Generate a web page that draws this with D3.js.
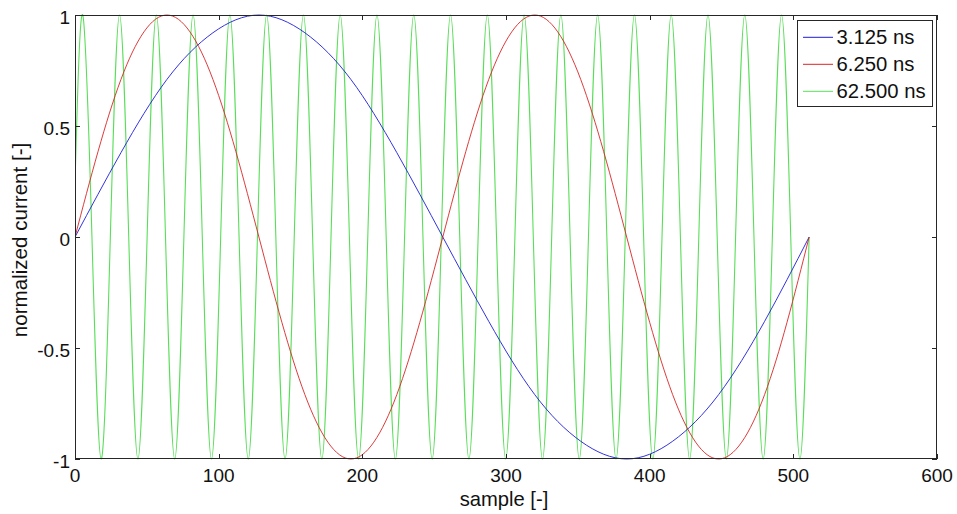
<!DOCTYPE html>
<html>
<head>
<meta charset="utf-8">
<script src="https://cdn.jsdelivr.net/npm/d3@7"></script>
<style>
body { margin: 0; background: #fff; }
svg { display: block; font-family: "Liberation Sans", Arial, sans-serif; }
</style>
</head>
<body>
<svg id="chart" width="957" height="514"></svg>
<script>
var blueX, blueY, redX, redY, greenX, greenY, seriesNames, seriesColors, xTicks, yTicks, yTickLabels;
// 3.125 ns trace, read every 32 samples
blueX = [0, 32, 64, 96, 128, 160, 192, 224, 256, 288, 320, 352, 384, 416, 448, 480, 511];
blueY = [0, 0.38, 0.71, 0.92, 1, 0.92, 0.71, 0.38, 0, -0.38, -0.71, -0.92, -1, -0.92, -0.71, -0.38, 0];
// 6.250 ns trace
redX = [0, 32, 64, 96, 128, 160, 192, 224, 256, 288, 320, 352, 384, 416, 448, 480, 511];
redY = [0, 0.71, 1, 0.71, 0, -0.71, -1, -0.71, 0, 0.71, 1, 0.71, 0, -0.71, -1, -0.71, 0];
// 62.500 ns trace: peaks, zero crossings and troughs
greenX = [0, 5.4, 11.8, 18.2, 24.6, 31, 37.4, 43.8, 50.2, 56.6, 63, 69.4, 75.8, 82.2, 88.6, 95, 101.4, 107.8, 114.2, 120.6,
  127, 133.4, 139.8, 146.2, 152.6, 159, 165.4, 171.8, 178.2, 184.6, 191, 197.4, 203.8, 210.2, 216.6, 223, 229.4, 235.8, 242.2, 248.6,
  255, 261.4, 267.8, 274.2, 280.6, 287, 293.4, 299.8, 306.2, 312.6, 319, 325.4, 331.8, 338.2, 344.6, 351, 357.4, 363.8, 370.2, 376.6,
  383, 389.4, 395.8, 402.2, 408.6, 415, 421.4, 427.8, 434.2, 440.6, 447, 453.4, 459.8, 466.2, 472.6, 479, 485.4, 491.8, 498.2, 504.6, 511];
greenY = [0.24, 1, 0, -1, 0, 1, 0, -1, 0, 1, 0, -1, 0, 1, 0, -1, 0, 1, 0, -1,
  0, 1, 0, -1, 0, 1, 0, -1, 0, 1, 0, -1, 0, 1, 0, -1, 0, 1, 0, -1,
  0, 1, 0, -1, 0, 1, 0, -1, 0, 1, 0, -1, 0, 1, 0, -1, 0, 1, 0, -1,
  0, 1, 0, -1, 0, 1, 0, -1, 0, 1, 0, -1, 0, 1, 0, -1, 0, 1, 0, -1, 0];
seriesNames = ["3.125 ns", "6.250 ns", "62.500 ns"];
seriesColors = ["#1c1cd8", "#d82626", "#5ade5a"];
xTicks = [0, 100, 200, 300, 400, 500, 600];
yTicks = [-1, -0.5, 0, 0.5, 1];
yTickLabels = ["-1", "-0.5", "0", "0.5", "1"];

var svg, margin, x, y, plot, line, series, legend, tickLen = 5;
svg = d3.select('#chart');
margin = { left: 75, right: 937, top: 15, bottom: 459 };
x = d3.scaleLinear().domain([0, 600]).range([margin.left, margin.right]);
y = d3.scaleLinear().domain([-1, 1]).range([margin.bottom, margin.top]);

series = [
  { name: seriesNames[0], color: seriesColors[0], xs: blueX, ys: blueY },
  { name: seriesNames[1], color: seriesColors[1], xs: redX, ys: redY },
  { name: seriesNames[2], color: seriesColors[2], xs: greenX, ys: greenY }
];

svg.append('defs').append('clipPath').attr('id', 'clip').append('rect')
  .attr('x', margin.left).attr('y', margin.top - 1)
  .attr('width', margin.right - margin.left).attr('height', margin.bottom - margin.top + 2);

line = d3.line().curve(d3.curveNatural).x(function(d){
  return x(d[0]);
}).y(function(d){
  return y(d[1]);
});

plot = svg.append('g').attr('clip-path', 'url(#clip)');
// green goes under blue and red, as in the reference
[2, 0, 1].forEach(function(i){
  var s = series[i];
  plot.append('path')
    .attr('d', line(s.xs.map(function(v, j){ return [v, s.ys[j]]; })))
    .attr('fill', 'none')
    .attr('stroke', s.color)
    .attr('stroke-width', i === 2 ? 1.1 : 0.9);
});

// axes box with inward ticks on all four sides
var axes = svg.append('g').attr('stroke', '#262626').attr('stroke-width', 1).attr('fill', 'none');
axes.append('rect').attr('x', margin.left + 0.5).attr('y', margin.top + 0.5)
  .attr('width', margin.right - margin.left - 1).attr('height', margin.bottom - margin.top - 1);
xTicks.forEach(function(t){
  var px = Math.round(x(t)) + 0.5;
  axes.append('line').attr('x1', px).attr('x2', px).attr('y1', margin.bottom).attr('y2', margin.bottom - tickLen);
  axes.append('line').attr('x1', px).attr('x2', px).attr('y1', margin.top).attr('y2', margin.top + tickLen);
});
yTicks.forEach(function(t){
  var py = Math.round(y(t)) + 0.5;
  axes.append('line').attr('y1', py).attr('y2', py).attr('x1', margin.left).attr('x2', margin.left + tickLen);
  axes.append('line').attr('y1', py).attr('y2', py).attr('x1', margin.right).attr('x2', margin.right - tickLen);
});

svg.append('g').selectAll('text').data(xTicks).enter().append('text')
  .attr('x', function(d){ return x(d); })
  .attr('y', 482)
  .attr('text-anchor', 'middle')
  .attr('font-size', 19)
  .attr('fill', '#111')
  .text(function(d){ return d; });

svg.append('g').selectAll('text').data(yTicks).enter().append('text')
  .attr('x', 70)
  .attr('y', function(d){ return y(d); })
  .attr('dy', '0.46em')
  .attr('text-anchor', 'end')
  .attr('font-size', 19)
  .attr('fill', '#111')
  .text(function(d, i){ return yTickLabels[i]; });

svg.append('text')
  .attr('x', 504)
  .attr('y', 506)
  .attr('text-anchor', 'middle')
  .attr('font-size', 20.2)
  .attr('fill', '#111')
  .text('sample [-]');

svg.append('text')
  .attr('transform', 'translate(27,240) rotate(-90)')
  .attr('text-anchor', 'middle')
  .attr('font-size', 20.6)
  .attr('fill', '#111')
  .text('normalized current [-]');

// legend
legend = svg.append('g');
legend.append('rect').attr('x', 797.5).attr('y', 20.5).attr('width', 135).attr('height', 86)
  .attr('fill', '#fff').attr('stroke', '#262626').attr('stroke-width', 1);
series.forEach(function(s, i){
  var ly = 37.3 + i * 27;
  legend.append('line').attr('x1', 803).attr('x2', 833).attr('y1', ly).attr('y2', ly)
    .attr('stroke', s.color).attr('stroke-width', 1);
  legend.append('text').attr('x', 836.5).attr('y', ly + 6.3)
    .attr('font-size', 20.3).attr('fill', '#111').text(s.name);
});
</script>
</body>
</html>
